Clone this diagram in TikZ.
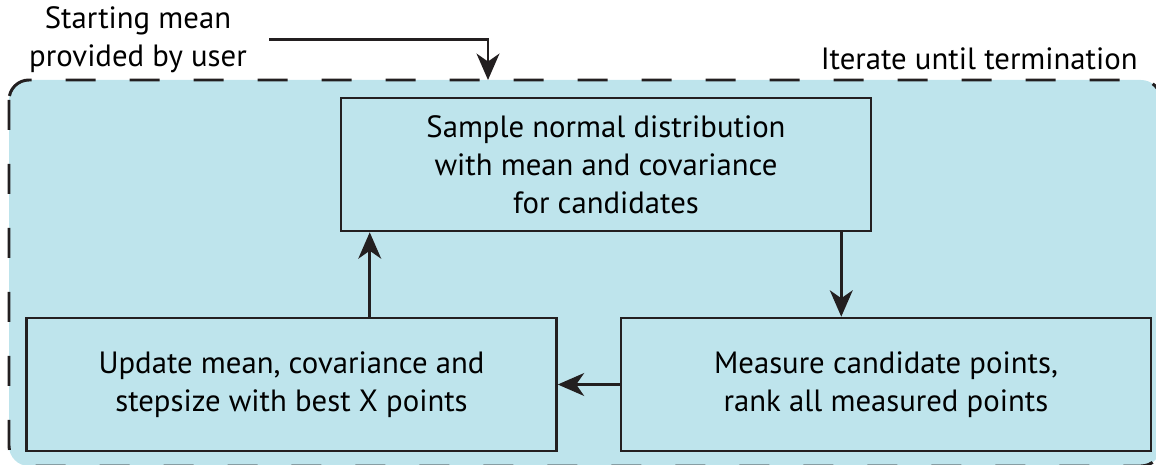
\documentclass[tikz,border=0pt]{standalone}
\usepackage{fontspec}
\setmainfont{PT Sans}
\usetikzlibrary{arrows.meta,positioning}

\definecolor{loopblue}{RGB}{190,228,236}
\definecolor{inkgrey}{RGB}{35,31,32}

\begin{document}
\begin{tikzpicture}[x=0.02cm,y=-0.02cm,
    font=\fontsize{17.5}{21.5}\selectfont,
    stage/.style={draw=inkgrey,line width=1.5pt,fill=loopblue,minimum width=10.6cm,
      minimum height=2.66cm,align=center,inner sep=0pt},
    flow/.style={draw=inkgrey,line width=1.5pt,-{Stealth[length=15pt,width=13pt,inset=4.5pt]}}]
  \useasboundingbox (0,0) rectangle (1156,465);
  % iteration loop
  \draw[inkgrey,fill=loopblue,line width=1.7pt,dash pattern=on 0.6cm off 0.68cm,
    rounded corners=0.4cm] (9,80) rectangle (1161,466);
  \node[anchor=base east,inner sep=0pt] (iterlbl) at (1138,70) {Iterate until termination};
  \node[align=center,anchor=north,inner sep=0pt] (startlbl) at (138,6)
    {Starting mean\\provided by user};
  % steps
  \node[stage] (sample) at (606,164.5) {Sample normal distribution\\with mean and covariance\\for candidates};
  \node[stage] (update) at (291.5,384.5) {Update mean, covariance and\\stepsize with best X points};
  \node[stage] (measure) at (886,384.5) {Measure candidate points,\\rank all measured points};
  \coordinate (loopin) at (488,80);
  \coordinate (downx) at ([xshift=-0.62cm]sample.south east);
  \coordinate (upx) at ([xshift=0.6cm]sample.south west);
  % connectors
  \draw[flow] ([xshift=0.44cm]startlbl.east) -| (loopin);
  \draw[flow] (downx) -- (downx |- measure.north);
  \draw[flow] (measure.west) -- (update.east);
  \draw[flow] (upx |- update.north) -- (upx);
\end{tikzpicture}
\end{document}
